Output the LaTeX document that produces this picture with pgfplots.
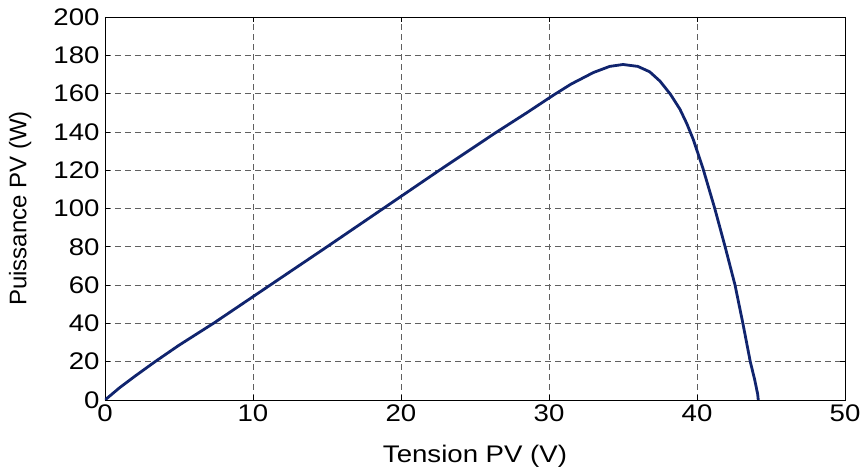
\documentclass[border=0pt]{standalone}
\usepackage{fontspec}
\setmainfont{Liberation Sans}
\newfontfamily\widefont{Liberation Sans}[FakeStretch=1.15]
\usepackage{pgfplots}
\pgfplotsset{compat=1.18}
\definecolor{curve}{RGB}{16,36,110}
\begin{document}
\begin{tikzpicture}
\begin{axis}[
  scale only axis,
  width=740pt, height=383pt,
  xmin=0, xmax=50, ymin=0, ymax=200,
  xtick={0,10,...,50}, ytick={0,20,...,200},
  tick align=inside,
  major tick length=5pt,
  tick style={black, line width=0.6pt},
  axis line style={black, line width=0.8pt},
  grid=major,
  major grid style={dashed, gray!75!black, line width=0.7pt, dash pattern=on 6pt off 4pt},
  /pgf/number format/assume math mode=true,
  ticklabel style={font=\widefont\fontsize{24}{26}\selectfont},
  xlabel style={font=\widefont\fontsize{24}{26}\selectfont},
  ylabel style={font=\fontsize{24}{26}\selectfont},
  xlabel={Tension PV (V)},
  ylabel={Puissance PV (W)},
  xlabel style={at={(axis description cs:0.5,0)}, anchor=north, yshift=-42pt},
  ylabel style={at={(axis description cs:0,0.5)}, anchor=south, yshift=70pt},
  xticklabel style={yshift=-1pt},
  yticklabel style={xshift=-2pt},
]
\addplot[curve, line width=2.8pt, line join=round] coordinates {
(0,0) (1,6.5) (2,12.3) (3.38,20) (5,28.6) (7.32,40) (15,80) (22.6,120)
(26.4,139.6) (28.5,150) (30.3,159.2) (31.5,165) (33,171) (34.1,174.2)
(35,175.2) (36,174.2) (36.8,171.4) (37.5,166.5) (38.2,159.7) (38.85,151.8)
(39.3,144.5) (39.75,136) (40.4,121) (41.2,100)
(41.9,80) (42.57,60) (43.1,40) (43.6,20) (43.9,10.5) (44.1,3) (44.14,0)
};
\end{axis}
\pgfresetboundingbox
\path (current axis.south west) ++(-105pt,-70pt) coordinate (bl);
\path (current axis.north east) ++(18pt,17pt) coordinate (tr);
\path[use as bounding box] (bl) rectangle (tr);
\end{tikzpicture}
\end{document}
